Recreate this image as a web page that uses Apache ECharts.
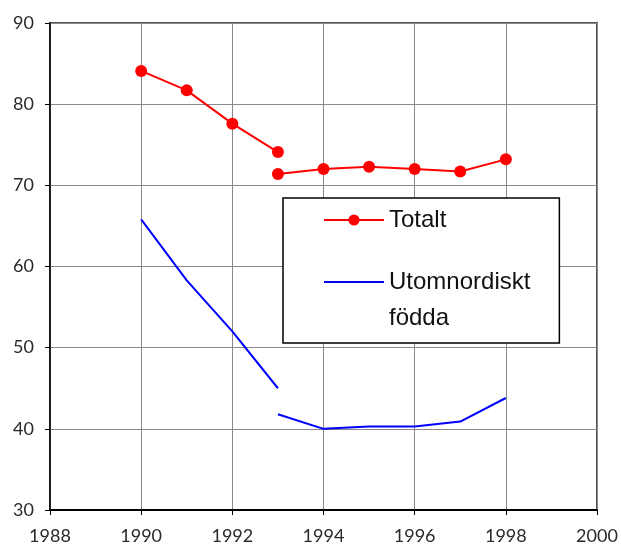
<!DOCTYPE html>
<html>
<head>
<meta charset="utf-8">
<script src="https://cdn.jsdelivr.net/npm/echarts@6/dist/echarts.min.js"></script>
<style>
html,body{margin:0;padding:0;background:#fff;}
#chart{width:621px;height:545px;}
</style>
</head>
<body>
<div id="chart"></div>
<script>
// Data
var years1 = [1990, 1991, 1992, 1993];
var years2 = [1993, 1994, 1995, 1996, 1997, 1998];
var totaltA = [84.1, 81.7, 77.6, 74.1];
var totaltB = [71.4, 72.0, 72.3, 72.0, 71.7, 73.2];
var utomA = [65.8, 58.3, 52.0, 45.0];
var utomB = [41.8, 40.0, 40.3, 40.3, 40.9, 43.8];
var xTicks = [1988, 1990, 1992, 1994, 1996, 1998, 2000];
var yTicks = [30, 40, 50, 60, 70, 80, 90];
var seriesNames = ['Totalt', 'Utomnordiskt födda'];

function joinParts(xa, ya, xb, yb) {
  var out = [];
  for (var i = 0; i < xa.length; i++) out.push([xa[i], ya[i]]);
  out.push([xa[xa.length - 1], '-']);
  for (var j = 0; j < xb.length; j++) out.push([xb[j], yb[j]]);
  return out;
}

var chart = echarts.init(document.getElementById('chart'), null, {renderer: 'canvas'});
var legendFont = '"Liberation Sans Narrow", "Arial Narrow", "Liberation Sans", Arial, sans-serif';
var option = {
  animation: false,
  backgroundColor: '#fff',
  grid: {
    left: 50, right: 24, top: 23, bottom: 35,
    show: true, borderColor: '#555', borderWidth: 2, backgroundColor: 'transparent'
  },
  xAxis: {
    type: 'value',
    min: xTicks[0], max: xTicks[xTicks.length - 1], interval: 2,
    axisLine: {show: true, onZero: false, lineStyle: {color: '#000', width: 2}},
    axisTick: {show: true, inside: false, length: 5, lineStyle: {color: '#000', width: 1}},
    axisLabel: {
      color: '#2a2a2a', fontFamily: 'Lato, "DejaVu Sans", sans-serif', fontSize: 18, margin: 17,
      formatter: function (v) { return String(v); }
    },
    splitLine: {show: true, lineStyle: {color: '#888', width: 1}}
  },
  yAxis: {
    type: 'value',
    min: yTicks[0], max: yTicks[yTicks.length - 1], interval: 10,
    axisLine: {show: true, onZero: false, lineStyle: {color: '#000', width: 1.5}},
    axisTick: {show: true, inside: false, length: 5, lineStyle: {color: '#000', width: 1}},
    axisLabel: {
      color: '#2a2a2a', fontFamily: 'Lato, "DejaVu Sans", sans-serif', fontSize: 18, margin: 16,
      formatter: function (v) { return String(v); }
    },
    splitLine: {show: true, lineStyle: {color: '#888', width: 1}}
  },
  legend: {
    orient: 'vertical',
    left: 283, top: 198,
    padding: [4, 29, 7, 40],
    itemGap: -10,
    itemWidth: 60, itemHeight: 14,
    backgroundColor: '#fff',
    borderColor: '#000', borderWidth: 1.5, borderRadius: 0,
    textStyle: {color: '#111', fontFamily: legendFont, fontSize: 24, lineHeight: 36},
    data: [
      {name: seriesNames[0]},
      {name: seriesNames[1], itemStyle: {color: 'rgba(0,0,0,0)', borderWidth: 0, opacity: 0}}
    ],
    formatter: function (name) {
      return name === seriesNames[1] ? '\nUtomnordiskt\nfödda' : name;
    }
  },
  series: [
    {
      name: seriesNames[0],
      type: 'line',
      data: joinParts(years1, totaltA, years2, totaltB),
      color: '#ff0000',
      lineStyle: {color: '#ff0000', width: 2},
      symbol: 'circle', symbolSize: 12, showAllSymbol: true,
      itemStyle: {color: '#ff0000'},
      connectNulls: false
    },
    {
      name: seriesNames[1],
      type: 'line',
      data: joinParts(years1, utomA, years2, utomB),
      color: '#0000ff',
      lineStyle: {color: '#0000ff', width: 2},
      symbol: 'none',
      itemStyle: {color: '#0000ff'},
      connectNulls: false
    }
  ]
};
chart.setOption(option);
</script>
</body>
</html>
